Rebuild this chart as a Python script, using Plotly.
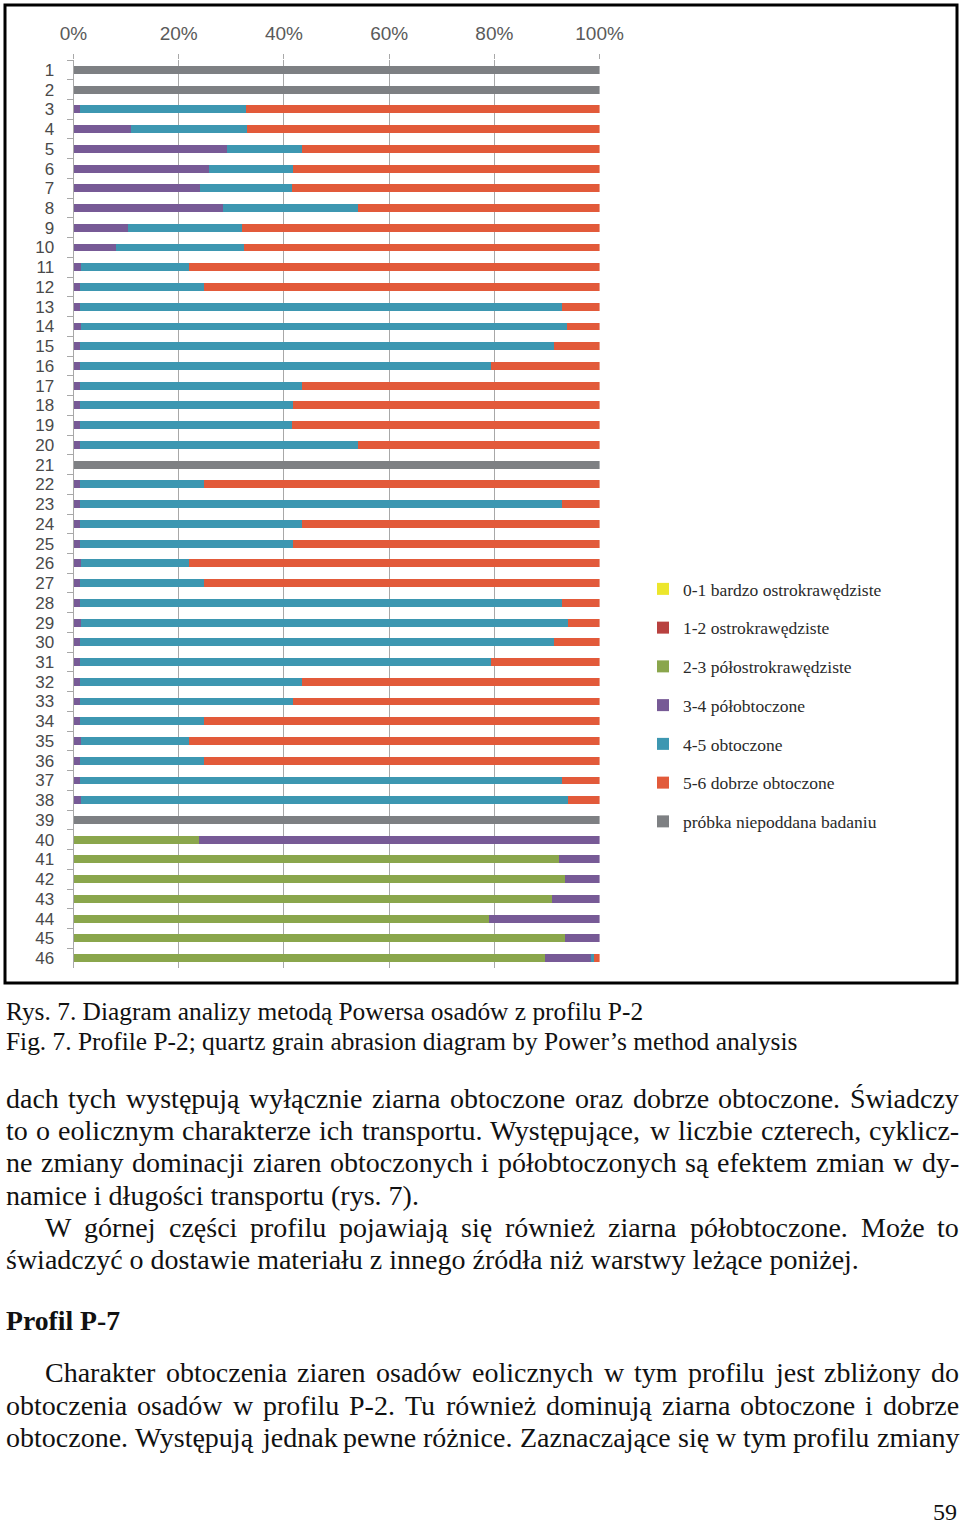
import plotly.graph_objects as go

W, H = 960, 1525

categories = [str(i) for i in range(1, 47)]

# percentages per Powers roundness class
v_0_1 = [0.0] * 46
v_1_2 = [0.0] * 46
v_2_3 = [0, 0, 0, 0, 0, 0, 0, 0, 0, 0,
         0, 0, 0, 0, 0, 0, 0, 0, 0, 0,
         0, 0, 0, 0, 0, 0, 0, 0, 0, 0,
         0, 0, 0, 0, 0, 0, 0, 0, 0, 23.9,
         92.3, 93.5, 90.9, 78.9, 93.5, 89.7]
v_3_4 = [0, 0, 1.2, 10.9, 29.1, 25.8, 24.0, 28.5, 10.3, 8.0,
         1.5, 1.2, 1.2, 1.5, 1.2, 1.2, 1.2, 1.2, 1.2, 1.2,
         0, 1.2, 1.2, 1.2, 1.2, 1.5, 1.2, 1.2, 1.5, 1.2,
         1.2, 1.2, 1.2, 1.2, 1.5, 1.2, 1.2, 1.5, 0, 76.1,
         7.7, 6.5, 9.1, 21.1, 6.5, 8.7]
v_4_5 = [0, 0, 31.5, 22.0, 14.3, 15.9, 17.5, 25.6, 21.8, 24.4,
         20.5, 23.6, 91.7, 92.3, 90.1, 78.2, 42.2, 40.5, 40.3, 52.9,
         0, 23.6, 91.6, 42.2, 40.5, 20.5, 23.6, 91.6, 92.4, 90.1,
         78.2, 42.2, 40.5, 23.6, 20.5, 23.6, 91.6, 92.4, 0, 0,
         0, 0, 0, 0, 0, 0.6]
v_5_6 = [0, 0, 67.3, 67.1, 56.6, 58.3, 58.5, 45.9, 67.9, 67.6,
         78.0, 75.2, 7.1, 6.2, 8.7, 20.6, 56.6, 58.3, 58.5, 45.9,
         0, 75.2, 7.2, 56.6, 58.3, 78.0, 75.2, 7.2, 6.1, 8.7,
         20.6, 56.6, 58.3, 75.2, 78.0, 75.2, 7.2, 6.1, 0, 0,
         0, 0, 0, 0, 0, 1.0]
v_none = [100, 100, 0, 0, 0, 0, 0, 0, 0, 0,
          0, 0, 0, 0, 0, 0, 0, 0, 0, 0,
          100, 0, 0, 0, 0, 0, 0, 0, 0, 0,
          0, 0, 0, 0, 0, 0, 0, 0, 100, 0,
          0, 0, 0, 0, 0, 0]

series_names = ["0-1 bardzo ostrokrawędziste", "1-2 ostrokrawędziste",
                "2-3 półostrokrawędziste", "3-4 półobtoczone",
                "4-5 obtoczone", "5-6 dobrze obtoczone",
                "próbka niepoddana badaniu"]
series_values = [v_0_1, v_1_2, v_2_3, v_3_4, v_4_5, v_5_6, v_none]
series_colors = ["#ece62c", "#b8413f", "#8aa64c", "#775a96",
                 "#3d97b1", "#e25a3a", "#7e8083"]

x_ticks = [0, 20, 40, 60, 80, 100]
x_tick_labels = ["0%", "20%", "40%", "60%", "80%", "100%"]

fig = go.Figure()
for i, (name, vals, col) in enumerate(zip(series_names, series_values, series_colors)):
    fig.add_trace(go.Bar(
        y=categories, x=vals, name=name, orientation="h",
        marker=dict(color=col, line=dict(width=0)),
        legendgroup=f"g{i}", hoverinfo="skip",
    ))

grid_col = "#a8a8a8"
fig.update_layout(
    width=W, height=H,
    margin=dict(l=0, r=0, t=0, b=0, autoexpand=False),
    paper_bgcolor="white", plot_bgcolor="white",
    barmode="stack", bargap=0.6,
    showlegend=True,
    legend=dict(
        x=643 / W, y=1 - 571 / H, xanchor="left", yanchor="top",
        font=dict(family="Liberation Serif", size=17.5, color="#2a2a2a"),
        traceorder="grouped", tracegroupgap=13,
        bgcolor="rgba(0,0,0,0)", itemclick=False,
    ),
    xaxis=dict(
        domain=[73.5 / W, 599.6 / W], range=[0, 100], side="top",
        tickvals=x_ticks, ticktext=x_tick_labels,
        showgrid=True, gridcolor=grid_col, gridwidth=1,
        zeroline=False, showline=False,
        ticks="outside", ticklen=5, tickcolor=grid_col,
        ticklabelstandoff=6,
        tickfont=dict(family="Liberation Sans", size=19, color="#5a5a5a"),
        fixedrange=True,
    ),
    yaxis=dict(
        domain=[1 - 968 / H, 1 - 60 / H], type="category",
        autorange="reversed", tickmode="linear", dtick=1,
        showline=True, linecolor=grid_col, linewidth=1,
        showgrid=False, zeroline=False,
        ticks="outside", ticklen=6, tickcolor=grid_col, tickson="boundaries",
        ticklabelstandoff=15,
        tickfont=dict(family="Liberation Sans", size=17, color="#4a4a4a"),
        fixedrange=True,
    ),
)

# figure frame
fig.add_shape(type="rect", xref="paper", yref="paper",
              x0=5 / W, x1=957 / W, y0=1 - 983 / H, y1=1 - 5 / H,
              line=dict(color="black", width=3), fillcolor="rgba(0,0,0,0)")

serif = "Liberation Serif"
TXT = "#111111"

# Times/Liberation Serif advance widths (1/1000 em) used for justification
TW = {" ": 250, ".": 250, ",": 250, "-": 333, "(": 333, ")": 333, ";": 278,
      ":": 278, "’": 333}
TW.update({c: 500 for c in "0123456789"})
TW.update(dict(zip("abcdefghijklmnopqrstuvwxyz",
                   [444, 500, 444, 500, 444, 333, 500, 500, 278, 278, 500, 278, 778,
                    500, 500, 500, 500, 333, 389, 278, 500, 500, 722, 500, 500, 444])))
TW.update(dict(zip("ABCDEFGHIJKLMNOPQRSTUVWXYZ",
                   [722, 667, 667, 722, 611, 556, 722, 722, 333, 389, 722, 611, 889,
                    722, 722, 556, 722, 667, 556, 611, 722, 722, 944, 722, 722, 611])))
TW.update({"ą": 444, "ę": 444, "ł": 278, "ó": 500, "ś": 389, "ź": 444, "ż": 444,
           "ć": 444, "ń": 500, "Ś": 556, "Ż": 611})


def text_w(s, size):
    return sum(TW.get(c, 500) for c in s) * size / 1000.0


def add_text(text, x_px, y_px, size, anchor="left", bold=False):
    fig.add_annotation(
        text=f"<b>{text}</b>" if bold else text,
        xref="paper", yref="paper", x=x_px / W, y=1 - y_px / H,
        xanchor=anchor, yanchor="middle", showarrow=False,
        font=dict(family=serif, size=size, color=TXT),
        borderpad=0,
    )


def add_justified(text, x_left, x_right, y_px, size):
    words = text.split(" ")
    widths = [text_w(w, size) for w in words]
    gap = (x_right - x_left - sum(widths)) / (len(words) - 1)
    gap = max(gap, 0.22 * size)
    x = x_left
    for w, wd in zip(words, widths):
        add_text(w, x, y_px, size, "left")
        x += wd + gap


# captions
CS = 25.4
add_text("Rys. 7. Diagram analizy metodą Powersa osadów z profilu P-2", 5, 1011, CS)
add_text("Fig. 7. Profile P-2; quartz grain abrasion diagram by Power’s method analysis", 5, 1041, CS)

BS = 28
R = 958
add_justified("dach tych występują wyłącznie ziarna obtoczone oraz dobrze obtoczone. Świadczy", 5, R, 1098, BS)
add_justified("to o eolicznym charakterze ich transportu. Występujące, w liczbie czterech, cyklicz-", 5, R, 1130, BS)
add_justified("ne zmiany dominacji ziaren obtoczonych i półobtoczonych są efektem zmian w dy-", 5, R, 1162, BS)
add_text("namice i długości transportu (rys. 7).", 5, 1195, BS)
add_justified("W górnej części profilu pojawiają się również ziarna półobtoczone. Może to", 44, R, 1227, BS)
add_text("świadczyć o dostawie materiału z innego źródła niż warstwy leżące poniżej.", 5, 1259, BS)

add_text("Profil P-7", 5, 1320, 27.7, bold=True)

add_justified("Charakter obtoczenia ziaren osadów eolicznych w tym profilu jest zbliżony do", 44, R, 1372, BS)
add_justified("obtoczenia osadów w profilu P-2. Tu również dominują ziarna obtoczone i dobrze", 5, R, 1405, BS)
add_justified("obtoczone. Występują jednak pewne różnice. Zaznaczające się w tym profilu zmiany", 5, R, 1437, BS)

add_text("59", 958, 1512, 24, anchor="right")

fig.write_html("out.html")
